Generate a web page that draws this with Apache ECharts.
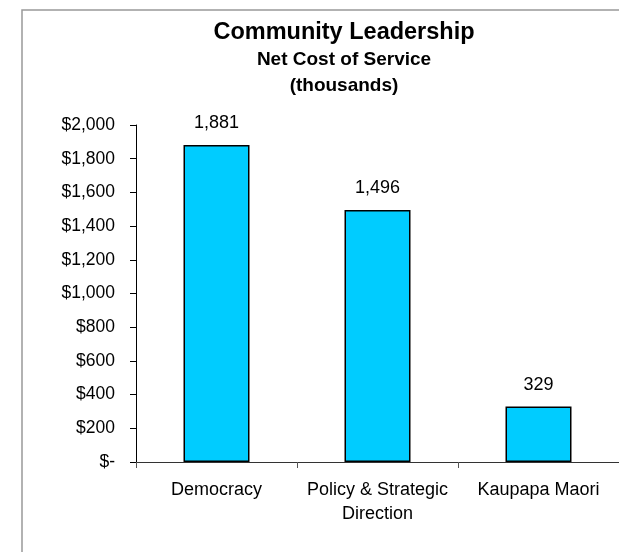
<!DOCTYPE html>
<html>
<head>
<meta charset="utf-8">
<script src="https://cdn.jsdelivr.net/npm/echarts@6/dist/echarts.min.js"></script>
<style>
  html, body { margin: 0; padding: 0; background: #fff; }
  #chart { width: 619px; height: 552px; }
</style>
</head>
<body>
<div id="chart"></div>
<script>
// Net cost of service by activity, in thousands of dollars
const categories = ['Democracy', 'Policy & Strategic\nDirection', 'Kaupapa Maori'];
const netCost = [1881, 1496, 329];
const yTicks = [0, 200, 400, 600, 800, 1000, 1200, 1400, 1600, 1800, 2000];

const FONT = '"Liberation Sans", Arial, sans-serif';

function withCommas(v) {
  return String(v).replace(/\B(?=(\d{3})+(?!\d))/g, ',');
}
// Accounting-style dollar labels: zero shows as "$-"
function dollars(v) {
  return v === 0 ? '$-' : '$' + withCommas(v);
}

const chart = echarts.init(document.getElementById('chart'), null, { renderer: 'canvas' });

chart.setOption({
  animation: false,
  backgroundColor: '#ffffff',
  textStyle: { fontFamily: FONT },
  graphic: [
    {
      type: 'rect', silent: true, z: -1,
      shape: { x: 22, y: 10, width: 800, height: 800 },
      style: { fill: 'none', stroke: '#999999', lineWidth: 1.5 }
    },
    {
      type: 'text', x: 344, y: 33,
      style: { text: 'Community Leadership', fontFamily: FONT, fontSize: 23.5, fontWeight: 'bold',
               fill: '#000', align: 'center', verticalAlign: 'middle' }
    },
    {
      type: 'text', x: 344, y: 60,
      style: { text: 'Net Cost of Service', fontFamily: FONT, fontSize: 19, fontWeight: 'bold',
               fill: '#000', align: 'center', verticalAlign: 'middle' }
    },
    {
      type: 'text', x: 344, y: 86,
      style: { text: '(thousands)', fontFamily: FONT, fontSize: 19, fontWeight: 'bold',
               fill: '#000', align: 'center', verticalAlign: 'middle' }
    }
  ],
  grid: { left: 136, top: 125, width: 486, height: 337, containLabel: false },
  xAxis: {
    type: 'category',
    data: categories,
    boundaryGap: true,
    axisLine: { lineStyle: { color: '#333', width: 1 } },
    axisTick: { show: true, alignWithLabel: false, length: 6, lineStyle: { color: '#555' } },
    axisLabel: { color: '#000', fontSize: 18, fontFamily: FONT, margin: 16, lineHeight: 24, interval: 0 }
  },
  yAxis: {
    type: 'value',
    min: 0, max: 2000, interval: 200,
    splitLine: { show: false },
    axisLine: { show: true, lineStyle: { color: '#000', width: 1 } },
    axisTick: { show: true, length: 6, lineStyle: { color: '#000' } },
    axisLabel: {
      color: '#000', fontSize: 17.5, fontFamily: FONT, margin: 21,
      customValues: yTicks,
      formatter: dollars
    }
  },
  series: [{
    type: 'bar',
    data: netCost,
    barWidth: 66,
    itemStyle: { color: '#00CCFF', borderColor: '#000', borderWidth: 1.5 },
    label: {
      show: true, position: 'top', distance: 13,
      color: '#000', fontSize: 18, fontFamily: FONT,
      formatter: p => withCommas(p.value)
    }
  }]
});
</script>
</body>
</html>
